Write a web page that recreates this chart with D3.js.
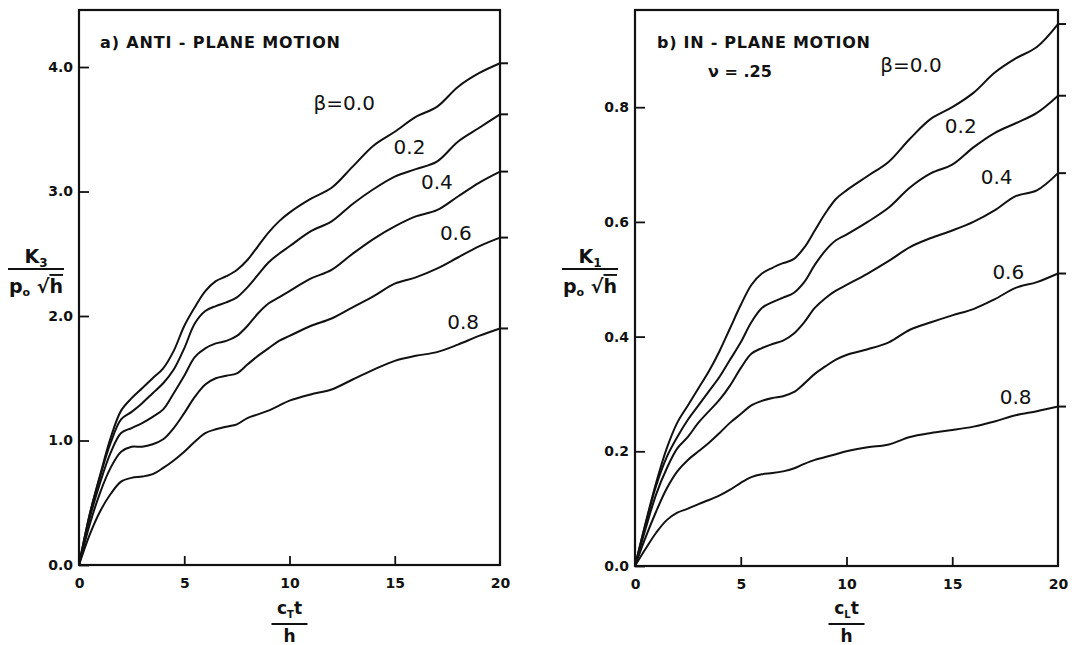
<!DOCTYPE html>
<html>
<head>
<meta charset="utf-8">
<script src="https://cdn.jsdelivr.net/npm/d3@7/dist/d3.min.js"></script>
<style>
  body { margin: 0; background: #fff; }
  svg text { font-family: "DejaVu Sans", sans-serif; fill: #111; }
</style>
</head>
<body>
<svg id="chart" width="1090" height="645"></svg>
<script>
// time axis (c t / h), shared by every curve
var tValues = [0, 0.5, 1, 1.5, 2, 2.5, 3, 3.5, 4, 4.5, 5, 5.5, 6, 6.5, 7, 7.5, 8, 8.5, 9, 9.5, 10,
               11, 12, 13, 14, 15, 16, 17, 18, 19, 20];
var xTicks = [0, 5, 10, 15, 20];

// a) anti-plane motion, K3 / (p0 sqrt h)
var antiTicks = [0, 1, 2, 3, 4];
var anti00 = [0, 0.40, 0.72, 1.02, 1.24, 1.34, 1.42, 1.50, 1.58, 1.72, 1.92, 2.07, 2.20, 2.28, 2.32, 2.37, 2.45, 2.56, 2.67, 2.76, 2.83,
              2.94, 3.03, 3.20, 3.37, 3.48, 3.60, 3.68, 3.84, 3.95, 4.03];
var anti02 = [0, 0.40, 0.71, 0.98, 1.17, 1.23, 1.30, 1.38, 1.46, 1.57, 1.74, 1.94, 2.04, 2.08, 2.11, 2.15, 2.23, 2.33, 2.43, 2.50, 2.56,
              2.68, 2.76, 2.90, 3.02, 3.12, 3.18, 3.24, 3.40, 3.51, 3.62];
var anti04 = [0, 0.37, 0.66, 0.90, 1.06, 1.10, 1.14, 1.19, 1.25, 1.38, 1.52, 1.67, 1.74, 1.78, 1.80, 1.84, 1.92, 2.02, 2.10, 2.15, 2.20,
              2.30, 2.37, 2.50, 2.62, 2.72, 2.80, 2.85, 2.96, 3.07, 3.16];
var anti06 = [0, 0.32, 0.58, 0.78, 0.91, 0.95, 0.95, 0.97, 1.01, 1.10, 1.22, 1.35, 1.45, 1.50, 1.52, 1.54, 1.61, 1.68, 1.74, 1.80, 1.84,
              1.92, 1.98, 2.07, 2.16, 2.26, 2.31, 2.38, 2.47, 2.56, 2.63];
var anti08 = [0, 0.24, 0.43, 0.57, 0.67, 0.70, 0.71, 0.73, 0.78, 0.84, 0.91, 0.99, 1.06, 1.09, 1.11, 1.13, 1.18, 1.21, 1.24, 1.28, 1.32,
              1.37, 1.41, 1.49, 1.57, 1.64, 1.68, 1.71, 1.77, 1.84, 1.90];

// b) in-plane motion, K1 / (p0 sqrt h), nu = .25
var inTicks = [0, 0.2, 0.4, 0.6, 0.8];
var in00 = [0, 0.075, 0.145, 0.205, 0.25, 0.28, 0.31, 0.34, 0.375, 0.415, 0.455, 0.49, 0.51, 0.52, 0.528, 0.535, 0.555, 0.585, 0.615, 0.64, 0.655,
            0.68, 0.705, 0.745, 0.78, 0.80, 0.825, 0.86, 0.885, 0.905, 0.945];
var in02 = [0, 0.073, 0.14, 0.19, 0.225, 0.255, 0.28, 0.305, 0.33, 0.36, 0.39, 0.425, 0.45, 0.46, 0.468, 0.476, 0.495, 0.525, 0.55, 0.568, 0.578,
            0.60, 0.625, 0.66, 0.685, 0.70, 0.73, 0.755, 0.772, 0.79, 0.82];
var in04 = [0, 0.065, 0.125, 0.17, 0.205, 0.225, 0.25, 0.27, 0.29, 0.315, 0.345, 0.37, 0.38, 0.387, 0.393, 0.405, 0.425, 0.45, 0.467, 0.48, 0.49,
            0.51, 0.532, 0.556, 0.572, 0.585, 0.60, 0.62, 0.645, 0.655, 0.685];
var in06 = [0, 0.05, 0.095, 0.135, 0.165, 0.185, 0.20, 0.215, 0.232, 0.25, 0.265, 0.28, 0.288, 0.293, 0.296, 0.303, 0.318, 0.335, 0.348, 0.36, 0.368,
            0.378, 0.39, 0.412, 0.425, 0.437, 0.448, 0.465, 0.485, 0.495, 0.51];
var in08 = [0, 0.03, 0.058, 0.08, 0.093, 0.10, 0.108, 0.115, 0.123, 0.133, 0.145, 0.155, 0.16, 0.162, 0.165, 0.17, 0.178, 0.185, 0.19, 0.195, 0.20,
            0.207, 0.212, 0.225, 0.232, 0.237, 0.243, 0.252, 0.263, 0.27, 0.278];

var betaLabels = ["\u03B2=0.0", "0.2", "0.4", "0.6", "0.8"];

var svg = d3.select("#chart");

function drawPanel(p) {
  var x = d3.scaleLinear().domain([0, 20]).range([p.left, p.right]);
  var y = d3.scaleLinear().domain([0, p.yMax]).range([p.bottom, p.top]);
  var g = svg.append("g");

  // frame
  g.append("rect")
    .attr("x", p.left).attr("y", p.top)
    .attr("width", p.right - p.left).attr("height", p.bottom - p.top)
    .attr("fill", "none").attr("stroke", "#111").attr("stroke-width", 2.2);

  // x axis: little ticks pointing up into the plot
  var xa = g.append("g")
    .attr("transform", "translate(0," + p.bottom + ")")
    .call(d3.axisBottom(x).tickValues(xTicks).tickSizeInner(-9).tickSizeOuter(0).tickPadding(13));
  xa.select(".domain").remove();
  xa.selectAll(".tick line").attr("stroke", "#111").attr("stroke-width", 1.8)
    .filter(function(d) { return d === 0 || d === 20; }).remove();
  xa.selectAll("text").attr("font-size", 14).attr("font-weight", "bold").attr("fill", "#111");

  // y axis: ticks also point inward
  var ya = g.append("g")
    .attr("transform", "translate(" + p.left + ",0)")
    .call(d3.axisLeft(y).tickValues(p.yTicks).tickFormat(d3.format(".1f")).tickSizeInner(-10).tickSizeOuter(0).tickPadding(6));
  ya.select(".domain").remove();
  ya.selectAll(".tick line").attr("stroke", "#111").attr("stroke-width", 1.8);
  ya.selectAll("text").attr("font-size", 14).attr("font-weight", "bold").attr("fill", "#111");

  // curves
  var line = d3.line()
    .x(function(d, i) { return x(tValues[i]); })
    .y(function(d) { return y(d); })
    .curve(d3.curveCatmullRom);

  p.series.forEach(function(s, i) {
    g.append("path")
      .attr("d", line(s))
      .attr("fill", "none").attr("stroke", "#111").attr("stroke-width", 2);
    // stub past the right frame where the curve ends
    g.append("line")
      .attr("x1", x(20)).attr("x2", x(20) + 8)
      .attr("y1", y(s[s.length - 1])).attr("y2", y(s[s.length - 1]))
      .attr("stroke", "#111").attr("stroke-width", 2);
    g.append("text")
      .attr("x", x(p.labelPos[i][0])).attr("y", y(p.labelPos[i][1]))
      .attr("dy", "0.36em").attr("text-anchor", "middle")
      .attr("font-size", 20)
      .text(betaLabels[i]);
  });

  // panel title
  g.append("text")
    .attr("x", p.titleX).attr("y", 48)
    .attr("font-size", 16).attr("font-weight", "bold")
    .attr("textLength", p.titleLen).attr("lengthAdjust", "spacing")
    .text(p.title);

  // y axis fraction label
  var yl = g.append("g").attr("font-weight", "bold");
  var k = yl.append("text").attr("x", p.yLabelX).attr("y", 263).attr("text-anchor", "middle").attr("font-size", 19);
  k.append("tspan").text("K");
  k.append("tspan").attr("font-size", 12).attr("dy", 4).text(p.kSub);
  yl.append("line")
    .attr("x1", p.yLabelX - 28).attr("x2", p.yLabelX + 28)
    .attr("y1", 269).attr("y2", 269)
    .attr("stroke", "#111").attr("stroke-width", 2);
  var den = yl.append("text").attr("x", p.yLabelX).attr("y", 293).attr("text-anchor", "middle").attr("font-size", 19);
  den.append("tspan").text("p");
  den.append("tspan").attr("font-size", 11).attr("dy", 3).text("o");
  den.append("tspan").attr("dy", -3).text(" \u221A");
  den.append("tspan").attr("text-decoration", "overline").text("h");

  // x axis fraction label
  var cx = (p.left + p.right) / 2;
  var xl = g.append("g").attr("font-weight", "bold");
  var c = xl.append("text").attr("x", cx).attr("y", 614).attr("text-anchor", "middle").attr("font-size", 17);
  c.append("tspan").text("c");
  c.append("tspan").attr("font-size", 10).attr("dy", 4).text(p.cSub);
  c.append("tspan").attr("dy", -4).text("t");
  xl.append("line")
    .attr("x1", cx - 18).attr("x2", cx + 18)
    .attr("y1", 624).attr("y2", 624)
    .attr("stroke", "#111").attr("stroke-width", 2);
  xl.append("text").attr("x", cx).attr("y", 642).attr("text-anchor", "middle").attr("font-size", 17).text("h");

  return { x: x, y: y, g: g };
}

drawPanel({
  left: 79, right: 500, top: 10, bottom: 565, yMax: 4.458, yTicks: antiTicks,
  series: [anti00, anti02, anti04, anti06, anti08],
  labelPos: [[12.6, 3.71], [15.7, 3.36], [17.0, 3.08], [17.9, 2.67], [18.25, 1.95]],
  title: "a) ANTI - PLANE MOTION", titleX: 100, titleLen: 240,
  yLabelX: 36, kSub: "3", cSub: "T"
});

var right = drawPanel({
  left: 635, right: 1058, top: 10, bottom: 566, yMax: 0.9695, yTicks: inTicks,
  series: [in00, in02, in04, in06, in08],
  labelPos: [[13.05, 0.874], [15.4, 0.767], [17.1, 0.678], [17.65, 0.513], [18.0, 0.295]],
  title: "b) IN - PLANE MOTION", titleX: 657, titleLen: 213,
  yLabelX: 590, kSub: "1", cSub: "L"
});

right.g.append("text")
  .attr("x", 708).attr("y", 77)
  .attr("font-size", 16).attr("font-weight", "bold")
  .text("\u03BD = .25");
</script>
</body>
</html>
